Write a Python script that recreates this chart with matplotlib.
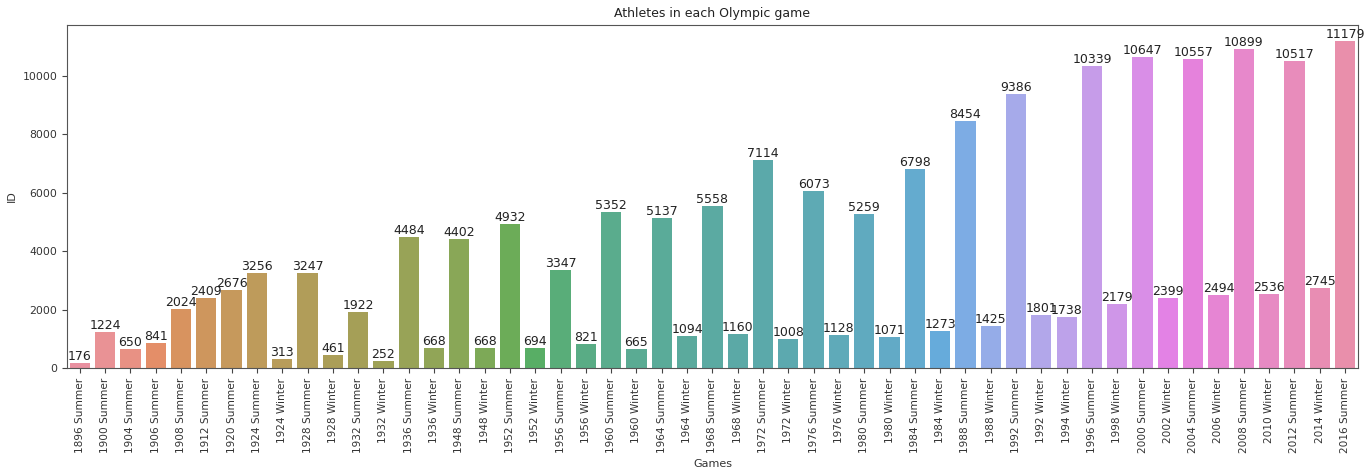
import numpy as np
import matplotlib
matplotlib.use("Agg")
import matplotlib.pyplot as plt
import seaborn as sns

games = ["1896 Summer", "1900 Summer", "1904 Summer", "1906 Summer", "1908 Summer",
         "1912 Summer", "1920 Summer", "1924 Summer", "1924 Winter", "1928 Summer",
         "1928 Winter", "1932 Summer", "1932 Winter", "1936 Summer", "1936 Winter",
         "1948 Summer", "1948 Winter", "1952 Summer", "1952 Winter", "1956 Summer",
         "1956 Winter", "1960 Summer", "1960 Winter", "1964 Summer", "1964 Winter",
         "1968 Summer", "1968 Winter", "1972 Summer", "1972 Winter", "1976 Summer",
         "1976 Winter", "1980 Summer", "1980 Winter", "1984 Summer", "1984 Winter",
         "1988 Summer", "1988 Winter", "1992 Summer", "1992 Winter", "1994 Winter",
         "1996 Summer", "1998 Winter", "2000 Summer", "2002 Winter", "2004 Summer",
         "2006 Winter", "2008 Summer", "2010 Winter", "2012 Summer", "2014 Winter",
         "2016 Summer"]

athletes = [176, 1224, 650, 841, 2024, 2409, 2676, 3256, 313, 3247,
            461, 1922, 252, 4484, 668, 4402, 668, 4932, 694, 3347,
            821, 5352, 665, 5137, 1094, 5558, 1160, 7114, 1008, 6073,
            1128, 5259, 1071, 6798, 1273, 8454, 1425, 9386, 1801, 1738,
            10339, 2179, 10647, 2399, 10557, 2494, 10899, 2536, 10517, 2745,
            11179]

# husl palette, desaturated like seaborn's barplot, a touch lighter
colors = []
for c in sns.color_palette("husl", len(games)):
    c = np.array(sns.desaturate(c, 0.75))
    colors.append(tuple(c + (1 - c) * 0.12))

fig = plt.figure(figsize=(13.7, 4.68), dpi=100)
ax = fig.add_axes([0.049, 0.2137, 0.942, 0.733])

x = np.arange(len(games))
bars = ax.bar(x, athletes, width=0.8, color=colors)
ax.set_xlim(-0.5, len(games) - 0.5)
ax.margins(y=0.05)

for b, v in zip(bars, athletes):
    ax.text(b.get_x() + b.get_width() / 2, v, str(v), ha='center', va='bottom',
            fontsize=9, color='#222222')

ax.set_xticks(x)
ax.set_xticklabels(games, rotation=90, fontsize=7.6, color='#333333')
ax.tick_params(axis='y', labelsize=7.8, labelcolor='#333333')
ax.tick_params(color='#444444')
for s in ax.spines.values():
    s.set_color('#555555')
ax.set_xlabel('Games', fontsize=8, color='#333333')
ax.set_ylabel('ID', fontsize=8, color='#333333')
ax.set_title('Athletes in each Olympic game', fontsize=9, color='#222222')

fig.savefig('out.png', dpi=100)
